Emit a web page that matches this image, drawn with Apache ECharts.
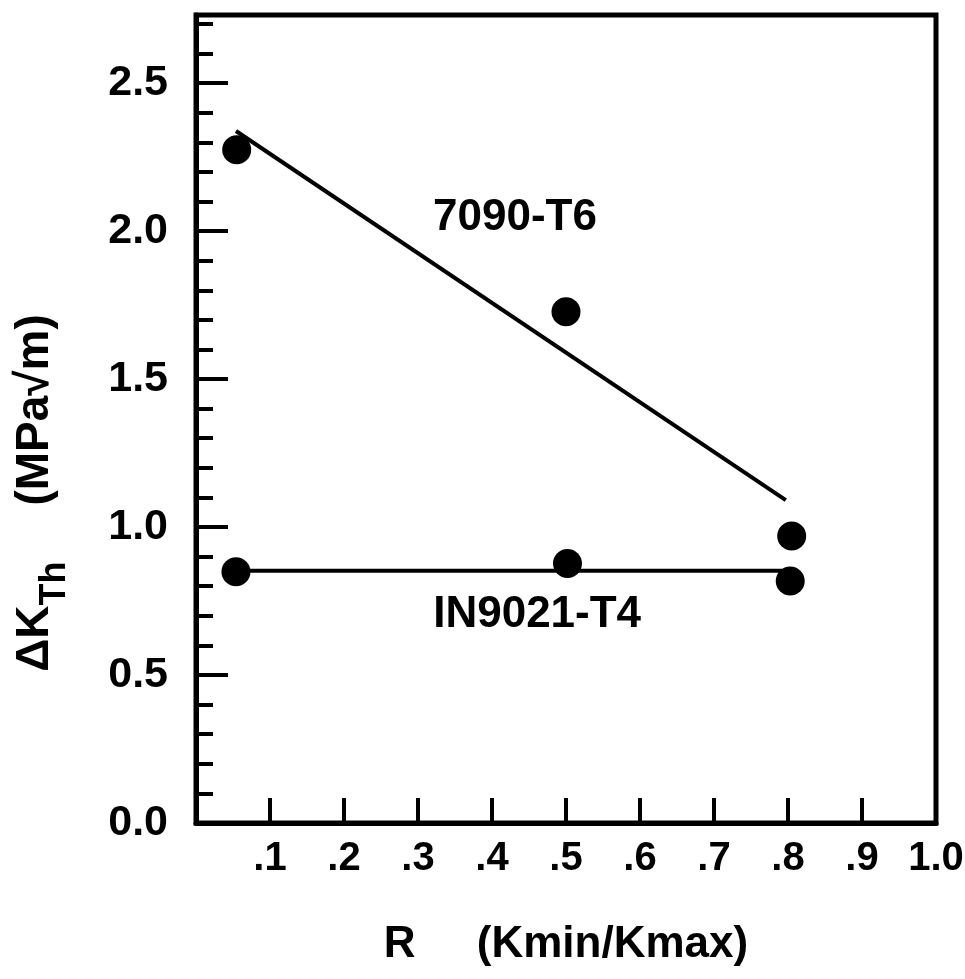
<!DOCTYPE html>
<html>
<head>
<meta charset="utf-8">
<script src="https://cdn.jsdelivr.net/npm/echarts@6/dist/echarts.min.js"></script>
<style>
html,body{margin:0;padding:0;background:#fff;}
#chart{width:965px;height:979px;}
</style>
</head>
<body>
<div id="chart"></div>
<script>
// ---- data ----
var xTickValues = [0.1, 0.2, 0.3, 0.4, 0.5, 0.6, 0.7, 0.8, 0.9, 1.0];
var xTickLabels = ['.1', '.2', '.3', '.4', '.5', '.6', '.7', '.8', '.9', '1.0'];
var yTickValues = [0.0, 0.5, 1.0, 1.5, 2.0, 2.5];
var yTickLabels = ['0.0', '0.5', '1.0', '1.5', '2.0', '2.5'];

var r7090 = [0.055, 0.50, 0.805];
var dk7090 = [2.275, 1.727, 0.970];
var fitR7090 = [0.054, 0.797];
var fitDk7090 = [2.338, 1.091];

var rIN9021 = [0.054, 0.502, 0.803];
var dkIN9021 = [0.849, 0.877, 0.818];
var fitRIN9021 = [0.054, 0.800];
var fitDkIN9021 = [0.852, 0.852];

var annotationText = ['7090-T6', 'IN9021-T4'];
var annotationR = [0.431, 0.461];
var annotationDk = [2.044, 0.703];

// ---- build ----
function pairs(xs, ys) { return xs.map(function (x, i) { return [x, ys[i]]; }); }
var FONT = "'Liberation Sans', Arial, sans-serif";

var chart = echarts.init(document.getElementById('chart'), null, { renderer: 'canvas' });
var option = {
  backgroundColor: '#fff',
  animation: false,
  grid: {
    left: 196, right: 29, top: 15, bottom: 156,
    containLabel: false, outerBoundsMode: 'none',
    show: true, borderColor: '#000', borderWidth: 5
  },
  xAxis: [{
    type: 'value', min: 0, max: 1, interval: 0.1,
    position: 'bottom',
    name: 'R     (Kmin/Kmax)', nameLocation: 'middle', nameGap: 100,
    nameTextStyle: { color: '#000', fontFamily: FONT, fontWeight: 'bold', fontSize: 44 },
    axisLine: { show: true, lineStyle: { color: '#000', width: 5 } },
    axisTick: { show: true, inside: true, length: 25, lineStyle: { color: '#000', width: 4 } },
    axisLabel: {
      show: true, margin: 16, color: '#000', fontFamily: FONT, fontWeight: 'bold', fontSize: 40,
      showMinLabel: false,
      formatter: function (v) {
        for (var i = 0; i < xTickValues.length; i++) if (Math.abs(v - xTickValues[i]) < 1e-6) return xTickLabels[i];
        return '';
      }
    },
    splitLine: { show: false }
  }],
  yAxis: [{
    type: 'value', min: 0, max: 2.73, interval: 0.5,
    position: 'left',
    name: '{a|ΔK}{sub|Th}{gap|}{a|(MPa√m)}',
    nameLocation: 'middle', nameGap: 112, nameRotate: 90,
    nameTextStyle: {
      color: '#000', fontFamily: FONT, fontWeight: 'bold', fontSize: 46,
      padding: [0, 148, 0, 0],
      rich: {
        a: { fontFamily: FONT, fontWeight: 'bold', fontSize: 46, color: '#000', verticalAlign: 'top', height: 58 },
        sub: { fontFamily: FONT, fontWeight: 'bold', fontSize: 36, color: '#000', verticalAlign: 'bottom', height: 58, padding: [20, 0, 0, 0] },
        gap: { width: 56 }
      }
    },
    axisLine: { show: true, lineStyle: { color: '#000', width: 5 } },
    axisTick: { show: true, inside: true, length: 32, lineStyle: { color: '#000', width: 4 } },
    axisLabel: {
      show: true, margin: 28, color: '#000', fontFamily: FONT, fontWeight: 'bold', fontSize: 43,
      formatter: function (v) {
        for (var i = 0; i < yTickValues.length; i++) if (Math.abs(v - yTickValues[i]) < 1e-6) return yTickLabels[i];
        return '';
      }
    },
    splitLine: { show: false }
  }, {
    type: 'value', min: 0, max: 2.73, interval: 0.1,
    position: 'left', offset: 0,
    axisLine: { show: false },
    axisTick: { show: true, inside: true, length: 17, lineStyle: { color: '#000', width: 4 } },
    axisLabel: { show: false },
    splitLine: { show: false }
  }],
  series: [{
    name: '7090-T6 fit', type: 'line', xAxisIndex: 0, yAxisIndex: 0,
    data: pairs(fitR7090, fitDk7090), symbol: 'none',
    lineStyle: { color: '#000', width: 4 }, z: 2
  }, {
    name: 'IN9021-T4 fit', type: 'line', xAxisIndex: 0, yAxisIndex: 0,
    data: pairs(fitRIN9021, fitDkIN9021), symbol: 'none',
    lineStyle: { color: '#000', width: 4 }, z: 2
  }, {
    name: '7090-T6', type: 'scatter', xAxisIndex: 0, yAxisIndex: 0,
    data: pairs(r7090, dk7090), symbol: 'circle', symbolSize: 29,
    itemStyle: { color: '#000', opacity: 1 }, z: 3
  }, {
    name: 'IN9021-T4', type: 'scatter', xAxisIndex: 0, yAxisIndex: 0,
    data: pairs(rIN9021, dkIN9021), symbol: 'circle', symbolSize: 29,
    itemStyle: { color: '#000', opacity: 1 }, z: 3
  }, {
    name: 'labels', type: 'scatter', xAxisIndex: 0, yAxisIndex: 0,
    data: annotationR.map(function (x, i) { return { value: [x, annotationDk[i]], name: annotationText[i] }; }),
    symbolSize: 1, itemStyle: { color: 'rgba(255,255,255,0)', opacity: 1 },
    label: {
      show: true, position: 'inside', formatter: '{b}', opacity: 1,
      color: '#000', fontFamily: FONT, fontWeight: 'bold', fontSize: 44
    },
    silent: true, z: 4
  }]
};
chart.setOption(option);
</script>
</body>
</html>
